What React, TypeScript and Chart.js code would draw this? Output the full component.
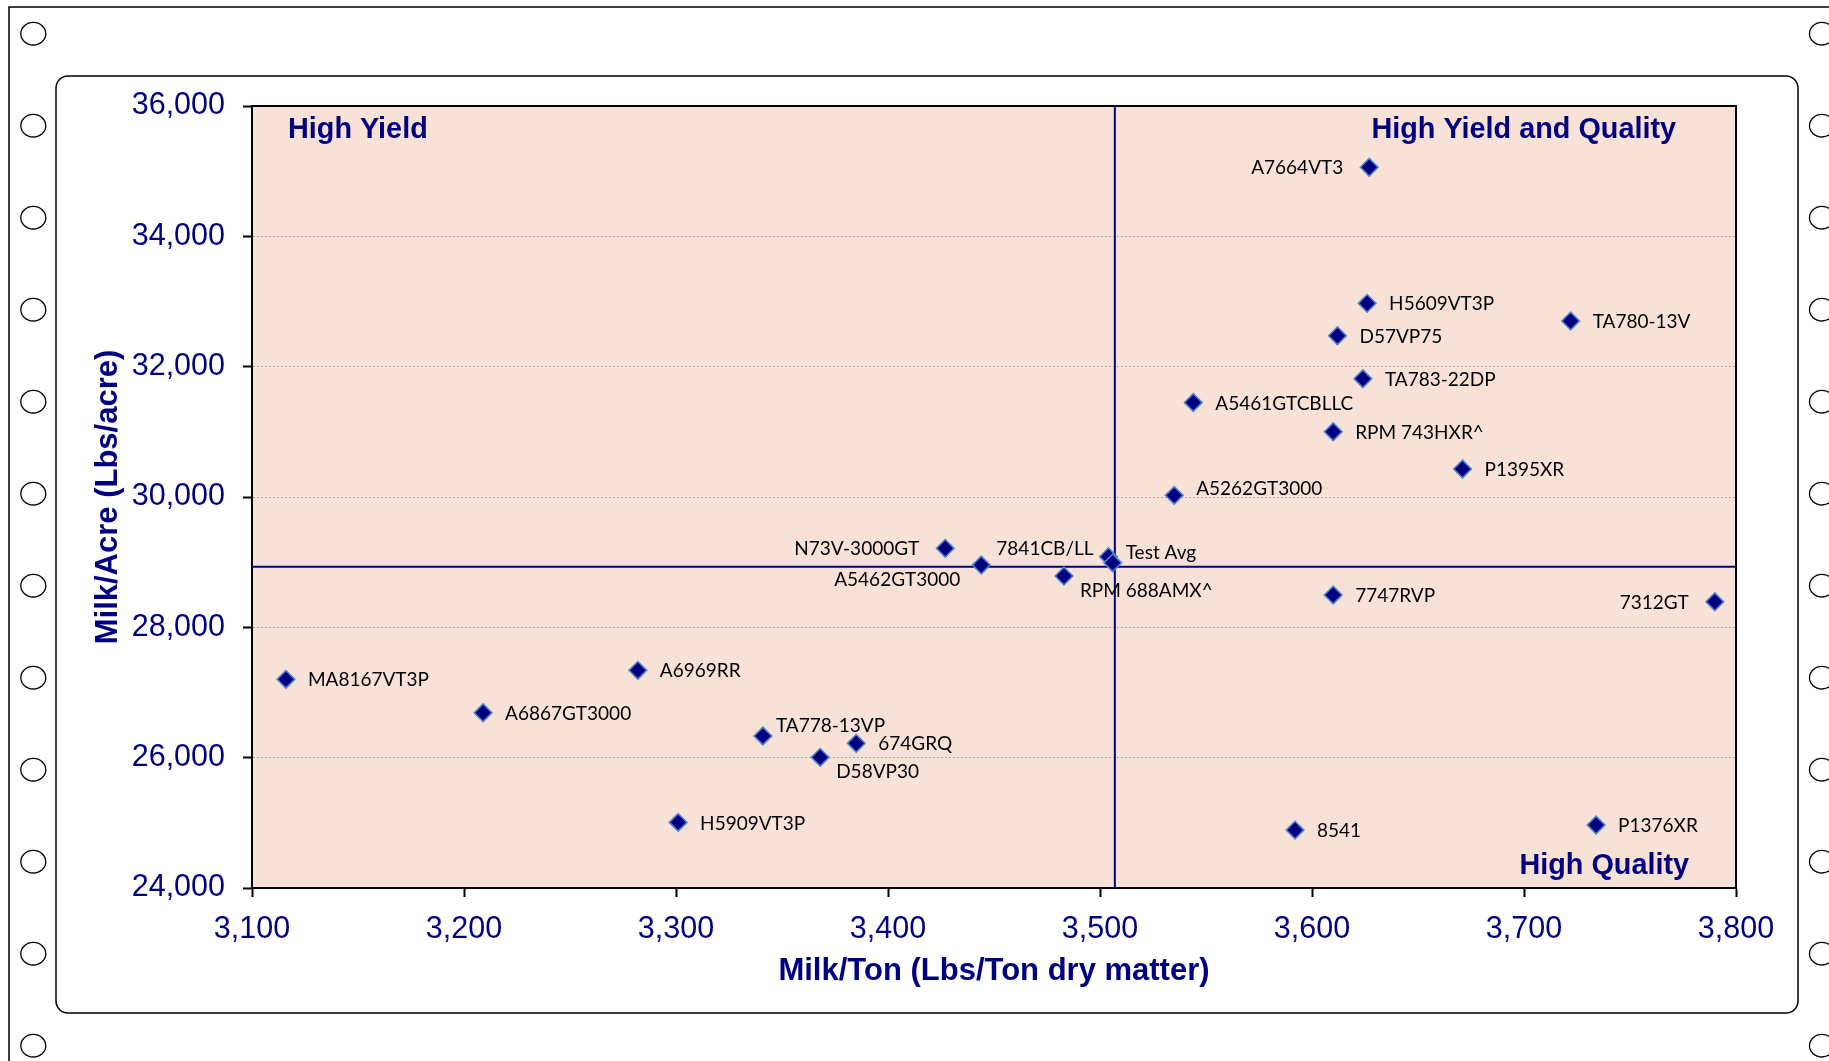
import React, { useEffect, useRef } from 'react';
import { Chart, registerables } from 'chart.js';

Chart.register(...registerables);

// ---------- Data ----------
const VARIETIES = [
  'A7664VT3', 'H5609VT3P', 'TA780-13V', 'D57VP75', 'TA783-22DP', 'A5461GTCBLLC',
  'RPM 743HXR^', 'P1395XR', 'A5262GT3000', 'N73V-3000GT', '7841CB/LL', 'Test Avg',
  'A5462GT3000', 'RPM 688AMX^', '7747RVP', '7312GT', 'MA8167VT3P', 'A6969RR',
  'A6867GT3000', 'TA778-13VP', '674GRQ', 'D58VP30', 'H5909VT3P', '8541', 'P1376XR',
];
const MILK_TON = [
  3627, 3626, 3722, 3612, 3624, 3544,
  3610, 3671, 3535, 3427, 3504, 3506,
  3444, 3483, 3610, 3790, 3116, 3282,
  3209, 3341, 3385, 3368, 3301, 3592, 3734,
];
const MILK_ACRE = [
  35060, 32972, 32700, 32475, 31815, 31450,
  31002, 30430, 30025, 29212, 29084, 28990,
  28956, 28787, 28496, 28393, 27202, 27340,
  26690, 26332, 26220, 26005, 25007, 24889, 24966,
];
// label placement keyword per point: r = right, ru = right & slightly up, l = left,
// ul/ur = up-left/up-right, dl/dr = down-left/down-right
const LABEL_SIDE = [
  'l', 'r', 'r', 'r', 'r', 'r',
  'r', 'r', 'ru', 'l', 'ul', 'ur',
  'dl', 'dr', 'r', 'l', 'r', 'r',
  'r', 'ur', 'r', 'dr', 'r', 'r', 'r',
];
const AVG_MILK_TON = 3507;
const AVG_MILK_ACRE = 28930;
const X_TICKS = [3100, 3200, 3300, 3400, 3500, 3600, 3700, 3800];
const Y_TICKS = [24000, 26000, 28000, 30000, 32000, 34000, 36000];
const X_TITLE = 'Milk/Ton (Lbs/Ton dry matter)';
const Y_TITLE = 'Milk/Acre (Lbs/acre)';
const QUADRANT_LABELS = ['High Yield', 'High Yield and Quality', 'High Quality'];

// ---------- Styles ----------
const NAVY = '#000080';
const PLOT_BG = '#F8E2D8';
const ARIAL = "'Liberation Sans', Arial, sans-serif";
const LABEL_FONT = "Lato, 'Noto Sans', sans-serif";
const W = 1829;
const H = 1061;

const OFFSETS: Record<string, { dx: number; dy: number; align: CanvasTextAlign }> = {
  r: { dx: 22, dy: 0, align: 'left' },
  ru: { dx: 22, dy: -7, align: 'left' },
  l: { dx: -26, dy: 0, align: 'right' },
  ul: { dx: -15, dy: -9, align: 'right' },
  ur: { dx: 13, dy: -11, align: 'left' },
  dl: { dx: -21, dy: 14, align: 'right' },
  dr: { dx: 16, dy: 14, align: 'left' },
};

const fmt = (v: number) => Number(v).toLocaleString('en-US');

const decorPlugin = {
  id: 'decor',
  beforeDraw(chart: any) {
    const { ctx, chartArea: a, width, height } = chart;
    ctx.save();
    ctx.fillStyle = '#ffffff';
    ctx.fillRect(0, 0, width, height);
    ctx.strokeStyle = '#000';
    // outer page frame
    ctx.lineWidth = 1.5;
    ctx.beginPath();
    ctx.moveTo(9, height + 5);
    ctx.lineTo(9, 7);
    ctx.lineTo(width + 5, 7);
    ctx.stroke();
    // binder holes
    ctx.lineWidth = 1.3;
    for (let k = 0; k < 12; k++) {
      const cy = 33.7 + 92 * k;
      for (const cx of [33.3, 1822]) {
        ctx.beginPath();
        ctx.ellipse(cx, cy, 12.5, 11.3, 0, 0, Math.PI * 2);
        ctx.stroke();
      }
    }
    // inner rounded chart frame
    ctx.lineWidth = 1.5;
    ctx.beginPath();
    ctx.roundRect(56, 76, 1742, 937, 12);
    ctx.stroke();
    // plot background
    ctx.fillStyle = PLOT_BG;
    ctx.fillRect(a.left, a.top, a.right - a.left, a.bottom - a.top);
    ctx.restore();
  },
  beforeDatasetsDraw(chart: any) {
    const { ctx, chartArea: a } = chart;
    ctx.save();
    ctx.strokeStyle = '#000';
    ctx.lineWidth = 2;
    ctx.strokeRect(a.left, a.top, a.right - a.left, a.bottom - a.top);
    ctx.fillStyle = NAVY;
    ctx.font = `bold 28.8px ${ARIAL}`;
    ctx.textBaseline = 'middle';
    ctx.textAlign = 'left';
    ctx.fillText(QUADRANT_LABELS[0], a.left + 36, a.top + 24);
    ctx.textAlign = 'right';
    ctx.fillText(QUADRANT_LABELS[1], a.right - 60, a.top + 24);
    ctx.fillText(QUADRANT_LABELS[2], a.right - 47, a.bottom - 22);
    ctx.restore();
  },
  afterDatasetsDraw(chart: any) {
    const { ctx } = chart;
    const meta = chart.getDatasetMeta(0);
    ctx.save();
    ctx.fillStyle = '#000';
    ctx.font = `19px ${LABEL_FONT}`;
    ctx.textBaseline = 'middle';
    meta.data.forEach((el: any, i: number) => {
      const o = OFFSETS[LABEL_SIDE[i]] || OFFSETS.r;
      ctx.textAlign = o.align;
      ctx.fillText(VARIETIES[i], el.x + o.dx, el.y + o.dy + 1);
    });
    ctx.restore();
  },
};

export default function App() {
  const canvasRef = useRef<HTMLCanvasElement | null>(null);

  useEffect(() => {
    document.body.style.margin = '0';
    let chart: Chart | null = null;
    let cancelled = false;
    const build = () => {
      if (cancelled || !canvasRef.current) return;
      const xMin = X_TICKS[0];
      const xMax = X_TICKS[X_TICKS.length - 1];
      const yMin = Y_TICKS[0];
      const yMax = Y_TICKS[Y_TICKS.length - 1];
      chart = new Chart(canvasRef.current, {
        type: 'scatter',
        data: {
          datasets: [
            {
              label: 'Varieties',
              data: VARIETIES.map((_, i) => ({ x: MILK_TON[i], y: MILK_ACRE[i] })),
              pointStyle: 'rectRot',
              pointRadius: 8.8,
              pointHoverRadius: 8.8,
              pointBackgroundColor: NAVY,
              pointBorderColor: '#4F81C8',
              pointBorderWidth: 1.6,
              showLine: false,
              order: 0,
            } as any,
            {
              label: 'Avg Milk/Ton',
              data: [{ x: AVG_MILK_TON, y: yMin }, { x: AVG_MILK_TON, y: yMax }],
              showLine: true,
              borderColor: NAVY,
              borderWidth: 2,
              pointRadius: 0,
              order: 1,
            } as any,
            {
              label: 'Avg Milk/Acre',
              data: [{ x: xMin, y: AVG_MILK_ACRE }, { x: xMax, y: AVG_MILK_ACRE }],
              showLine: true,
              borderColor: NAVY,
              borderWidth: 2,
              pointRadius: 0,
              order: 1,
            } as any,
          ],
        },
        options: {
          responsive: false,
          animation: false,
          devicePixelRatio: 1,
          layout: { padding: { left: 0, top: 106, right: 93, bottom: 0 } },
          plugins: {
            legend: { display: false },
            tooltip: { enabled: false },
          },
          scales: {
            x: {
              type: 'linear',
              min: xMin,
              max: xMax,
              afterBuildTicks: (axis: any) => {
                axis.ticks = X_TICKS.map((v) => ({ value: v }));
              },
              afterFit: (axis: any) => {
                axis.height = 173;
              },
              ticks: {
                color: NAVY,
                font: { family: ARIAL, size: 30.5 },
                padding: 14,
                maxRotation: 0,
                autoSkip: false,
                callback: (v: any) => fmt(v),
              },
              grid: {
                drawOnChartArea: false,
                drawTicks: true,
                tickLength: 9,
                tickColor: '#000',
                tickWidth: 2,
              },
              border: { display: true, color: '#000', width: 2 },
              title: {
                display: true,
                text: X_TITLE,
                color: NAVY,
                font: { family: ARIAL, size: 31, weight: 'bold' },
                padding: { top: 0, bottom: 71 },
              },
            },
            y: {
              type: 'linear',
              min: yMin,
              max: yMax,
              afterBuildTicks: (axis: any) => {
                axis.ticks = Y_TICKS.map((v) => ({ value: v }));
              },
              afterFit: (axis: any) => {
                axis.width = 252;
              },
              ticks: {
                color: NAVY,
                font: { family: ARIAL, size: 30.5 },
                padding: 18,
                autoSkip: false,
                callback: (v: any) => fmt(v),
              },
              grid: {
                color: '#A8A8A8',
                lineWidth: 1,
                drawTicks: true,
                tickLength: 9,
                tickColor: '#000',
                tickWidth: 2,
                tickBorderDash: [],
              },
              border: { display: true, color: '#000', width: 2, dash: [2, 2] },
              title: {
                display: true,
                text: Y_TITLE,
                color: NAVY,
                font: { family: ARIAL, size: 31, weight: 'bold' },
                padding: { top: 90, bottom: 0 },
              },
            },
          },
        } as any,
        plugins: [decorPlugin],
      });
    };
    const fonts = (document as any).fonts;
    if (fonts && fonts.load) {
      Promise.all([
        fonts.load(`19px Lato`),
        fonts.load(`30px 'Liberation Sans'`),
        fonts.load(`bold 30px 'Liberation Sans'`),
      ])
        .catch(() => null)
        .then(build);
    } else {
      build();
    }
    return () => {
      cancelled = true;
      if (chart) chart.destroy();
    };
  }, []);

  return (
    <div style={{ position: 'absolute', left: 0, top: 0, width: W, height: H, overflow: 'hidden', background: '#fff' }}>
      <canvas ref={canvasRef} width={W} height={H} style={{ display: 'block', width: W, height: H }} />
    </div>
  );
}
